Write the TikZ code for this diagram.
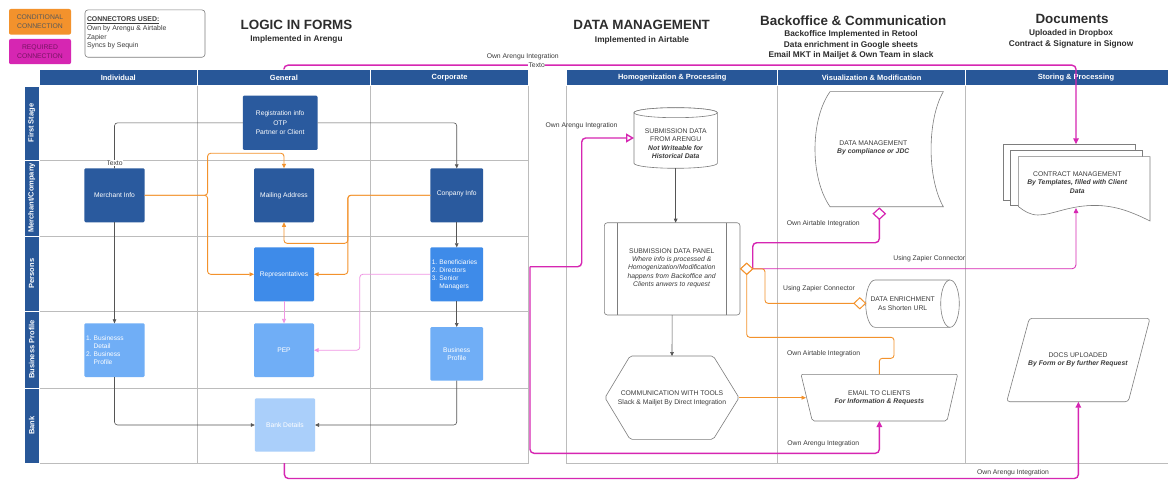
\documentclass[tikz,border=0pt]{standalone}
\usepackage{fontspec}
\setmainfont{Liberation Sans}
\usetikzlibrary{arrows.meta,shapes.geometric,calc}
\frenchspacing
\definecolor{hblue}{RGB}{40,87,152}
\definecolor{nblue}{RGB}{42,90,158}
\definecolor{bblue}{RGB}{62,139,233}
\definecolor{lblue}{RGB}{112,174,246}
\definecolor{xblue}{RGB}{170,207,250}
\definecolor{orng}{RGB}{243,146,44}
\definecolor{mag}{RGB}{214,38,178}
\definecolor{pinkc}{RGB}{240,150,228}
\definecolor{gridc}{RGB}{188,188,188}
\definecolor{txt}{RGB}{60,60,60}
\definecolor{ttl}{RGB}{45,45,45}
\definecolor{conn}{RGB}{85,85,85}
\definecolor{shpc}{RGB}{125,125,125}
\begin{document}
\begin{tikzpicture}[x=1pt,y=-1pt,
  every node/.style={inner sep=0pt, outer sep=0pt},
  hdr/.style={fill=hblue, draw=white, line width=0.5pt, text=white, font=\bfseries\fontsize{7.5}{9}\selectfont, minimum height=16.2pt},
  lane/.style={fill=hblue, draw=white, line width=0.5pt, text=white, font=\bfseries\fontsize{7.5}{9}\selectfont, rotate=90, minimum height=15.3pt},
  lbox/.style={rounded corners=1.2pt, text=white, align=center, font=\fontsize{6.7}{8}\selectfont},
  gridl/.style={draw=gridc, line width=0.7pt},
  gline/.style={draw=conn, line width=0.6pt, rounded corners=3pt},
  garr/.style={gline, -{Triangle[length=4pt,width=3.6pt]}},
  oline/.style={draw=orng, line width=0.9pt, rounded corners=3pt},
  oarr/.style={oline, -{Triangle[length=4.5pt,width=4pt]}},
  pline/.style={draw=pinkc, line width=0.8pt, rounded corners=3pt, -{Triangle[length=4.5pt,width=4pt]}},
  mline/.style={draw=mag, line width=1.4pt, rounded corners=4pt},
  marr/.style={mline, -{Triangle[length=6pt,width=5.5pt]}},
  mthin/.style={draw=mag, line width=0.8pt, rounded corners=4pt, -{Triangle[length=5pt,width=4.5pt]}},
  shp/.style={draw=shpc, line width=0.6pt, fill=white},
  stxt/.style={text=txt, align=center, font=\fontsize{6.8}{8.3}\selectfont},
  lbl/.style={text=txt, font=\fontsize{6.8}{8}\selectfont},
  dia/.style={diamond, fill=white, minimum width=12pt, minimum height=11pt}
]
\useasboundingbox[fill=white] (0,0) rectangle (1168,484);

% ---------- legend ----------
\node[fill=orng, rounded corners=2pt, minimum width=62pt, minimum height=25.7pt, align=center, text=black!65, font=\fontsize{6.8}{8.6}\selectfont] (lgo) at (40,21.8) {CONDITIONAL\\CONNECTION};
\node[fill=mag, rounded corners=2pt, minimum width=62pt, minimum height=25.3pt, align=center, text={rgb,255:red,120;green,20;blue,100}, font=\fontsize{6.8}{8.6}\selectfont] (lgm) at (40,51.6) {REQUIRED\\CONNECTION};
\node[draw=shpc, line width=0.6pt, rounded corners=3pt, minimum width=120pt, minimum height=47.3pt] (lgc) at (145,33.6) {};
\node[anchor=west, align=left, text=txt, font=\fontsize{6.9}{8.7}\selectfont] (lgct) at (87,33.2) {\underline{\textbf{CONNECTORS USED:}}\\Own by Arengu \& Airtable\\Zapier\\Syncs by Sequin};

% ---------- titles ----------
\node[font=\bfseries\fontsize{13.4}{15}\selectfont, text=ttl] (ti1) at (296.5,24.5) {LOGIC IN FORMS};
\node[font=\bfseries\fontsize{8.3}{10}\selectfont, text=ttl] (ti1s) at (296.5,39) {Implemented in Arengu};
\node[font=\bfseries\fontsize{13.4}{15}\selectfont, text=ttl] (ti2) at (641.7,25.3) {DATA MANAGEMENT};
\node[font=\bfseries\fontsize{8.3}{10}\selectfont, text=ttl] (ti2s) at (642,40) {Implemented in Airtable};
\node[font=\bfseries\fontsize{13.4}{15}\selectfont, text=ttl] (ti3) at (853.3,20.7) {Backoffice \& Communication};
\node[font=\bfseries\fontsize{8.3}{10.7}\selectfont, text=ttl, align=center] (ti3s) at (851,45) {Backoffice Implemented in Retool\\Data enrichment in Google sheets\\Email MKT in Mailjet \& Own Team in slack};
\node[font=\bfseries\fontsize{13.4}{15}\selectfont, text=ttl] (ti4) at (1072,19.3) {Documents};
\node[font=\bfseries\fontsize{8.3}{10.7}\selectfont, text=ttl, align=center] (ti4s) at (1071,38.7) {Uploaded in Dropbox\\Contract \& Signature in Signow};

% ---------- left pool grid ----------
\draw[gridl] (39.3,85.5) rectangle (528.6,463);
\draw[gridl] (197.3,85.5) -- (197.3,463) (370.5,85.5) -- (370.5,463);
\draw[gridl] (39.3,160) -- (528.6,160) (39.3,236) -- (528.6,236) (39.3,311) -- (528.6,311) (39.3,388) -- (528.6,388);
\node[hdr, minimum width=158pt] (hind) at (118.3,77.4) {Individual};
\node[hdr, minimum width=173.2pt] (hgen) at (283.9,77.4) {General};
\node[hdr, minimum width=158.1pt] (hcor) at (449.55,77.4) {Corporate};
\node[lane, minimum width=74pt] (lfs) at (31.65,123) {First Stage};
\node[lane, minimum width=76pt] (lmc) at (31.65,198) {Merchant/Company};
\node[lane, minimum width=75pt] (lpe) at (31.65,273.5) {Persons};
\node[lane, minimum width=77pt] (lbp) at (31.65,349.5) {Business Profile};
\node[lane, minimum width=75pt] (lba) at (31.65,425.5) {Bank};

% ---------- right pool grid ----------
\draw[gridl] (566.7,85.5) -- (566.7,463) -- (1190,463);
\draw[gridl] (777.7,85.5) -- (777.7,463) (965.5,85.5) -- (965.5,463);
\node[hdr, minimum width=211pt] (hhom) at (672.2,77.4) {Homogenization \& Processing};
\node[hdr, minimum width=187.8pt] (hvis) at (871.6,77.4) {Visualization \& Modification};
\node[hdr, minimum width=221pt] (hsto) at (1076,77.4) {Storing \& Processing};

% ---------- left pool nodes ----------
\node[lbox, fill=nblue, minimum width=74.7pt, minimum height=54.3pt, font=\fontsize{6.7}{9.4}\selectfont] (reg) at (280.15,122.85) {Registration info\\OTP\\Partner or Client};
\node[lbox, fill=nblue, minimum width=60.2pt, minimum height=54pt] (merch) at (114.5,195.3) {Merchant Info};
\node[lbox, fill=nblue, minimum width=60pt, minimum height=54pt] (mail) at (284,195.3) {Mailing Address};
\node[lbox, fill=nblue, minimum width=52.7pt, minimum height=54pt] (comp) at (456.75,195.3) {\raisebox{4.5pt}{Conpany Info}};
\node[lbox, fill=bblue, minimum width=60pt, minimum height=54pt] (repr) at (284,274.3) {Representatives};
\node[lbox, fill=bblue, minimum width=52.7pt, minimum height=54pt, align=left, text width=50pt, font=\fontsize{6.6}{8}\selectfont] (ben) at (456.75,274.3) {1. Beneficiaries\\2. Directors\\3. Senior\\\hphantom{3. }Managers};
\node[lbox, fill=lblue, minimum width=60.2pt, minimum height=53.7pt, align=left, text width=57pt, font=\fontsize{6.6}{8}\selectfont] (bd) at (114.5,350.2) {1. Businesss\\\hphantom{1. }Detail\\2. Business\\\hphantom{2. }Profile};
\node[lbox, fill=lblue, minimum width=60pt, minimum height=53.7pt] (pep) at (284,350.2) {PEP};
\node[lbox, fill=lblue, minimum width=52.7pt, minimum height=53.7pt] (bpc) at (456.75,353.85) {Business\\Profile};
\node[lbox, fill=xblue, minimum width=60.2pt, minimum height=53.4pt] (bank) at (284.9,425) {Bank Details};

% ---------- left pool connectors ----------
\draw[gline] (reg.west) -| (merch.north);
\node[lbl, fill=white, inner sep=0.8pt] (tx1) at (114.5,162.7) {Texto};
\draw[garr] (reg.east) -| (comp.north);
\draw[garr] (merch.south) -- (bd.north);
\draw[garr] (comp.south) -- (ben.north);
\draw[garr] (ben.south) -- (bpc.north);
\draw[garr] (bd.south) |- (bank.west);
\draw[garr] (bpc.south) |- (bank.east);
\draw[pline] (repr.south) -- (pep.north);
\coordinate (p1) at (359.8,274.3);
\draw[pline] (ben.west) -- (p1) |- (pep.east);
\coordinate (j1) at (207.6,195.3);
\coordinate (mt) at (284,153.3);
\draw[oarr] (merch.east) -- (j1) |- (mt) -- (mail.north);
\draw[oarr] (merch.east) -- (j1) |- (repr.west);
\coordinate (j2) at (347.8,195.3);
\coordinate (mb) at (284,243.3);
\draw[oarr] (comp.west) -- (j2) |- (mb) -- (mail.south);
\draw[oarr] (comp.west) -- (j2) |- (repr.east);

% ---------- right pool shapes ----------
% cylinder
\node[minimum width=83.3pt, minimum height=60.6pt] (cyl) at (675.65,138) {};
\draw[shp] (634,112.7) -- (634,163.3) arc (180:0:41.65 and 5) -- (717.3,112.7) arc (0:-180:41.65 and 5) -- cycle;
\draw[shp] (675.65,112.7) ellipse (41.65 and 5);
\node[stxt] (cylt) at (675.7,143.6) {SUBMISSION DATA\\FROM ARENGU\\\textbf{\textit{Not Writeable for}}\\\textbf{\textit{Historical Data}}};
% panel
\node[shp, rounded corners=3pt, minimum width=135.7pt, minimum height=92.3pt] (panel) at (672.15,268.85) {};
\draw[shp] (617.7,222.7) -- (617.7,315) (726.7,222.7) -- (726.7,315);
\node[stxt] (panelt) at (671.7,268.2) {SUBMISSION DATA PANEL\\\textit{Where info is processed \&}\\\textit{Homogenization/Modification}\\\textit{happens from Backoffice and}\\\textit{Clients anwers to request}};
% hexagon
\node[minimum width=134pt, minimum height=83.3pt] (hex) at (672,397.7) {};
\draw[shp, rounded corners=2pt] (605,397.7) -- (630,356) -- (713.3,356) -- (739,397.7) -- (713.3,439.3) -- (630,439.3) -- cycle;
\node[stxt] (hext) at (672,398.4) {COMMUNICATION WITH TOOLS\\Slack \& Mailjet By Direct Integration};
% email
\node[minimum width=156.7pt, minimum height=46.7pt] (email) at (879.35,397.65) {};
\draw[shp, rounded corners=2pt] (801,374.3) -- (957.7,374.3) -- (947,421) -- (812.3,421) -- cycle;
\node[stxt] (emailt) at (879.3,397.8) {EMAIL TO CLIENTS\\\textbf{\textit{For Information \& Requests}}};
% data management (stored data)
\node[minimum width=128pt, minimum height=115pt] (dm) at (879,149.2) {};
\draw[shp] (830,91.7) -- (943.3,91.7) .. controls (927,120) and (927,178) .. (943.3,206.7) -- (830,206.7) .. controls (810,178) and (810,120) .. (830,91.7) -- cycle;
\node[stxt] (dmt) at (873.3,148) {DATA MANAGEMENT\\\textbf{\textit{By compliance or JDC}}};
% data enrichment (horizontal drum)
\node[minimum width=93.6pt, minimum height=47.3pt] (de) at (912.5,303.65) {};
\draw[shp] (950,280) -- (875,280) arc (270:90:9.3 and 23.65) -- (950,327.3);
\draw[shp] (950,303.65) ellipse (9.3 and 23.65);
\node[stxt] (det) at (902.7,303.6) {DATA ENRICHMENT\\As Shorten URL};
% contract management (multi document)
\draw[shp] (1003.3,198) -- (1003.3,144.3) -- (1135.7,144.3) -- (1135.7,200) -- (1003.3,200) -- cycle;
\draw[shp] (1010.7,203) -- (1010.7,150) -- (1142.7,150) -- (1142.7,205) -- (1010.7,205) -- cycle;
\draw[shp] (1018.3,206.5) -- (1018.3,156.7) -- (1150,156.7) -- (1150,221) .. controls (1128,210) and (1112,205) .. (1092,205.5) .. controls (1068,206) and (1052,215) .. (1038,215) .. controls (1030,215) and (1024,211) .. (1018.3,206.5) -- cycle;
\coordinate (contop) at (1076,144.3);
\coordinate (conbot) at (1076,208);
\node[stxt] (cont) at (1077.3,182.6) {CONTRACT MANAGEMENT\\\textbf{\textit{By Templates, filled with Client}}\\\textbf{\textit{Data}}};
% docs uploaded
\node[minimum width=143.3pt, minimum height=83.4pt] (docs) at (1078.35,360) {};
\draw[shp, rounded corners=3pt] (1029.3,318.3) -- (1150,318.3) -- (1128.3,401.7) -- (1006.7,401.7) -- cycle;
\node[stxt] (docst) at (1078,359.6) {DOCS UPLOADED\\\textbf{\textit{By Form or By further Request}}};

% ---------- right pool connectors ----------
\draw[garr] (cyl.south) -- (cyl.south |- panel.north);
\draw[garr] (panel.south) -- (hex.north);
\coordinate (emW) at (806,397.7);
\draw[oarr] (hex.east) -- (emW);

\node[dia, draw=orng, line width=1pt] (pd) at (746.7,268.8) {};
\node[dia, draw=mag, line width=1.2pt] (dmd) at (879.3,213.7) {};
\node[dia, draw=orng, line width=1pt, minimum width=11.7pt] (den) at (859.8,303.3) {};

\coordinate (m1) at (879.3,242.7);
\draw[mline] (pd.east) |- (m1) -- (dmd.south);
\draw[mthin] (pd.east) -| (conbot);
\coordinate (o5) at (765,268.8);
\draw[oline] (pd.east) -- (o5) |- (den.west);
\coordinate (o1) at (746.7,337.3);
\coordinate (o2) at (894,337.3);
\coordinate (o3) at (894,358.3);
\coordinate (o4) at (879.35,358.3);
\draw[oline] (pd.south) -- (o1) -- (o2) -- (o3) -- (o4) -- (email.north);
\node[dia, draw=orng, line width=1pt] (pd2) at (746.7,268.8) {};

% magenta required connections
\coordinate (t1) at (283.9,65.2);
\coordinate (t2) at (1076,65.2);
\draw[marr] (hgen.north) -- (t1) -- (t2) -- (contop);
\node[lbl] (lb1) at (522.7,57) {Own Arengu Integration};
\node[lbl, fill=white, inner sep=0.6pt] (lb2) at (536.7,64.9) {Texto};

\coordinate (poolR) at (530,266.7);
\coordinate (c1) at (581.7,266.7);
\draw[mline, -{Triangle[open,length=8pt,width=9pt,fill=white]}] (poolR) -- (c1) |- (cyl.west);
\coordinate (e1) at (530,453.3);
\draw[marr] (poolR) -- (e1) -| (email.south);

\coordinate (b0) at (284.4,463);
\coordinate (b1) at (284.4,478.5);
\coordinate (b2) at (1078.35,478.5);
\draw[marr] (b0) -- (b1) -- (b2) -- (docs.south);

% labels
\node[lbl] (lb3) at (581.6,125.7) {Own Arengu Integration};
\node[lbl] (lb4) at (823.3,224) {Own Airtable Integration};
\node[lbl] (lb5) at (929.3,258.3) {Using Zapier Connector};
\node[lbl] (lb6) at (819,289) {Using Zapier Connector};
\node[lbl] (lb7) at (823.6,353.3) {Own Airtable Integration};
\node[lbl] (lb8) at (823.3,443.3) {Own Arengu Integration};
\node[lbl] (lb9) at (1013,473) {Own Arengu Integration};
\end{tikzpicture}
\end{document}
